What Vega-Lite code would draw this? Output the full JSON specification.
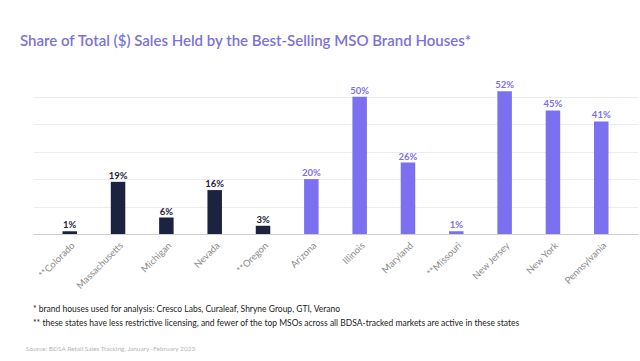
{
  "$schema": "https://vega.github.io/schema/vega-lite/v6.json",
  "background": "white",
  "padding": {"left": 20, "top": 34, "right": 5, "bottom": 5},
  "config": {"view": {"stroke": null}, "font": "Lato"},
  "title": {"text": "Share of Total ($) Sales Held by the Best-Selling MSO Brand Houses*", "anchor": "start", "fontSize": 15, "fontWeight": 600, "color": "#7b72d9", "font": "Lato", "offset": 31, "dx": -6},
  "vconcat": [
    {
      "title": {"text": "Source: BDSA Retail Sales Tracking, January–February 2023", "orient": "bottom", "anchor": "start", "fontSize": 6.5, "fontWeight": "normal", "color": "#b5b5b5", "offset": 19, "dx": -7},
      "vconcat": [
        {
          "title": {"text": ["* brand houses used for analysis: Cresco Labs, Curaleaf, Shryne Group, GTI, Verano", "** these states have less restrictive licensing, and fewer of the top MSOs across all BDSA-tracked markets are active in these states"], "orient": "bottom", "anchor": "start", "fontSize": 8.5, "fontWeight": "normal", "color": "#222222", "lineHeight": 14, "offset": 15, "dx": 0},
          "width": 605,
          "height": 151,
          "data": {"values": [
            {"state": "**Colorado", "value": 0.01, "group": "a"},
            {"state": "Massachusetts", "value": 0.19, "group": "a"},
            {"state": "Michigan", "value": 0.06, "group": "a"},
            {"state": "Nevada", "value": 0.16, "group": "a"},
            {"state": "**Oregon", "value": 0.03, "group": "a"},
            {"state": "Arizona", "value": 0.20, "group": "b"},
            {"state": "Illinois", "value": 0.50, "group": "b"},
            {"state": "Maryland", "value": 0.26, "group": "b"},
            {"state": "**Missouri", "value": 0.01, "group": "b"},
            {"state": "New Jersey", "value": 0.52, "group": "b"},
            {"state": "New York", "value": 0.45, "group": "b"},
            {"state": "Pennsylvania", "value": 0.41, "group": "b"}
          ]},
          "encoding": {
            "x": {"field": "state", "type": "nominal", "sort": null,
              "scale": {"paddingInner": 0.7, "paddingOuter": 0.61},
              "axis": {"title": null, "labelAngle": -45, "labelAlign": "right", "labelBaseline": "top", "labelFontSize": 9.5, "labelColor": "#8a8a8a", "ticks": false, "domainColor": "#cfcfcf", "labelPadding": 6}},
            "y": {"field": "value", "type": "quantitative",
              "scale": {"domain": [0, 0.55], "nice": false},
              "axis": {"title": null, "labels": false, "ticks": false, "domain": false, "values": [0.1, 0.2, 0.3, 0.4, 0.5], "gridColor": "#ececec"}},
            "color": {"field": "group", "type": "nominal", "legend": null,
              "scale": {"domain": ["a", "b"], "range": ["#1c2340", "#7a70f0"]}}
          },
          "layer": [
            {"mark": {"type": "bar"}},
            {"mark": {"type": "text", "dy": -6, "fontSize": 9.5, "fontWeight": "bold"},
              "encoding": {"text": {"field": "value", "type": "quantitative", "format": ".0%"},
                "color": {"field": "group", "type": "nominal", "legend": null, "scale": {"domain": ["a", "b"], "range": ["#1c2340", "#7a70d8"]}}}}
          ]
        }
      ]
    }
  ]
}
